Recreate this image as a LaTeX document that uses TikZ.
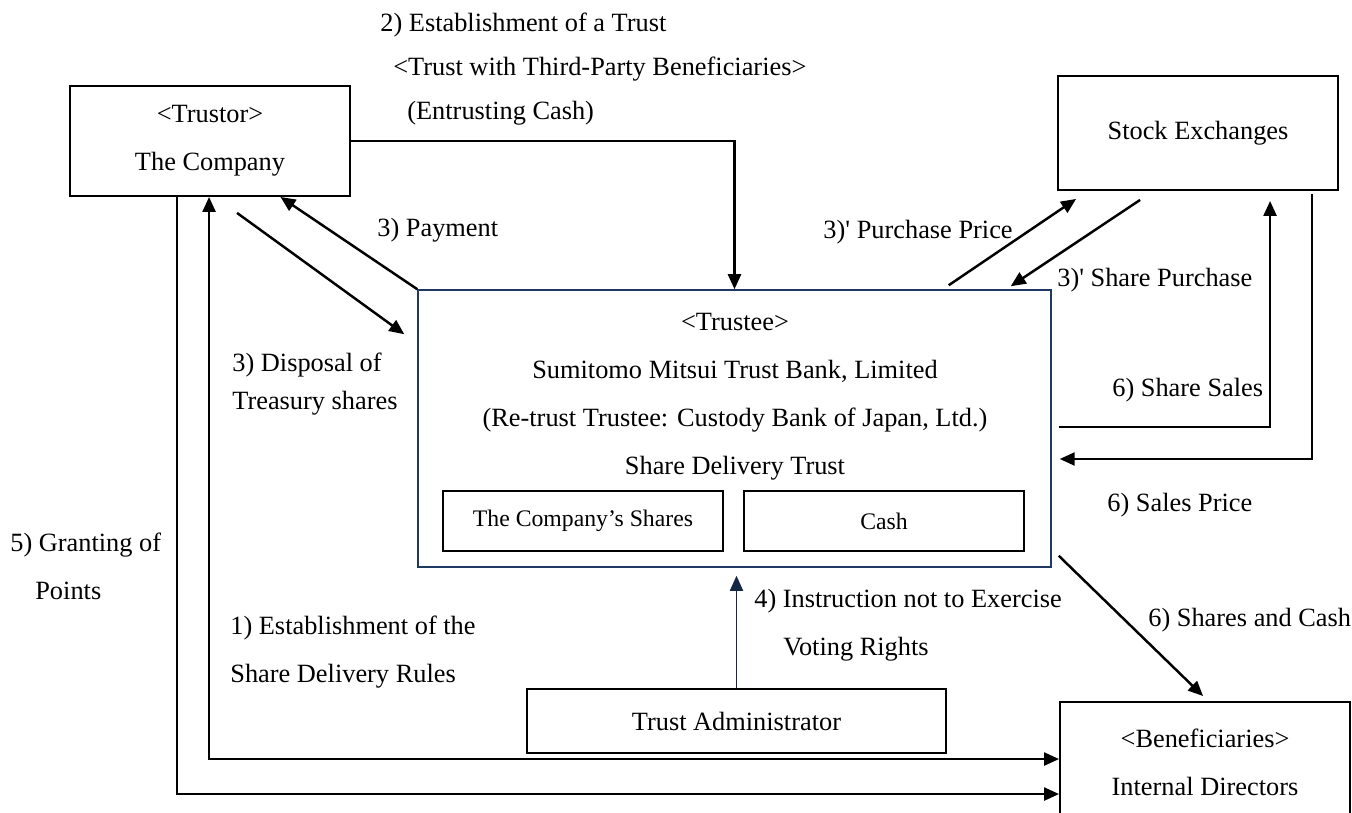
\documentclass[tikz,border=0pt]{standalone}
\usepackage{fontspec}
\setmainfont{Liberation Serif}[Ligatures=TeXOff]
\usetikzlibrary{arrows.meta,calc}
\definecolor{trustblue}{RGB}{31,56,100}
\definecolor{adminblue}{RGB}{20,40,70}
\begin{document}
\begin{tikzpicture}[x=0.02cm, y=-0.02cm, font=\fontsize{15}{27.4}\selectfont,
		>={Triangle[length=0.3cm, width=0.26cm]},
		box/.style={draw, line width=1.1pt, align=center, inner sep=0pt},
		flow/.style={line width=1.4pt, ->},
		lbl/.style={inner sep=0pt, align=left}]
	\useasboundingbox (0,0) rectangle (1352,813);
	\path node[box, minimum width=5.6cm, minimum height=2.2cm] (trustor) at (210,141) {<Trustor>\\The Company};
	\path node[box, minimum width=5.6cm, minimum height=2.28cm] (stock) at (1198,133) {Stock Exchanges};
	\path node[draw=trustblue, line width=0.9pt, minimum width=12.66cm, minimum height=5.54cm] (trustee) at (734.5,428.5) {};
	\path node[align=center] (trusteetxt) at (735,397) {<Trustee>\\Sumitomo Mitsui Trust Bank, Limited\\(Re-trust Trustee: Custody Bank of Japan, Ltd.)\\Share Delivery Trust};
	\path node[box, font=\fontsize{13.5}{16}\selectfont, minimum width=5.6cm, minimum height=1.2cm] (shares) at (583,521) {The Company’s Shares};
	\path node[box, font=\fontsize{13.5}{16}\selectfont, minimum width=5.6cm, minimum height=1.2cm] (cash) at (884,521) {Cash};
	\path node[box, minimum width=8.38cm, minimum height=1.28cm] (admin) at (736.5,721) {Trust Administrator};
	\path node[box, minimum width=5.8cm, minimum height=2.4cm] (benef) at (1205,762) {<Beneficiaries>\\Internal Directors};

	\draw[flow] (trustor.east) -| (trustee.north);
	\draw[flow] (trustee.north west) -- ($(trustor.south west)!0.75!(trustor.south east)$);
	\draw[flow] ($(trustor.south west)+(168,16)$) -- ($(trustee.north west)+(-13,45)$);
	\draw[flow, <->] ($(trustor.south west)+(140,0)$) |- ($(benef.north west)+(0,58)$);
	\draw[flow] ($(trustor.south west)+(108,0)$) |- ($(benef.north west)+(0,93)$);
	\draw[flow] ($(trustee.north east)+(-103,-4)$) -- ($(stock.south west)+(19,8)$);
	\draw[flow] ($(stock.south west)+(83,9)$) -- ($(trustee.north east)+(-41,-3)$);
	\draw[flow] ($(trustee.east)+(7,-1.5)$) -| ($(stock.south west)+(213,10)$);
	\draw[flow] ($(stock.south east)+(-27,3)$) |- ($(trustee.east)+(8,30.5)$);
	\draw[flow] ($(trustee.south east)+(7,-12)$) -- ($(benef.north west)+(144,-5)$);
	\draw[flow, line width=1pt, color=adminblue] (admin.north) -- ($(admin.north |- trustee.south)+(0,8)$);

	\path node[lbl, anchor=west, font=\fontsize{15}{25.2}\selectfont] (lblfund) at (380,69) {2) Establishment of a Trust\\\hspace*{0.26cm}<Trust with Third-Party Beneficiaries>\\\hspace*{0.54cm}(Entrusting Cash)};
	\path node[lbl, anchor=west] (lblpay) at (377,230) {3) Payment};
	\path node[lbl, anchor=west, font=\fontsize{15}{21.5}\selectfont] (lbldisp) at (232,384) {3) Disposal of\\Treasury shares};
	\path node[lbl, anchor=east] (lblprice) at (1013,232) {3)' Purchase Price};
	\path node[lbl, anchor=west] (lblbuy) at (1057,280) {3)' Share Purchase};
	\path node[lbl, anchor=west] (lblsale) at (1112,390) {6) Share Sales};
	\path node[lbl, anchor=west] (lblproceeds) at (1107,505) {6) Sales Price};
	\path node[lbl, anchor=west] (lbldeliver) at (1148,620) {6) Shares and Cash};
	\path node[lbl, anchor=west] (lblvote) at (754,625) {4) Instruction not to Exercise\\\hspace*{0.58cm}Voting Rights};
	\path node[lbl, anchor=west] (lblpoints) at (10,566) {5) Granting of\\\hspace*{0.5cm}Points};
	\path node[lbl, anchor=west] (lblrules) at (230,652) {1) Establishment of the\\Share Delivery Rules};
\end{tikzpicture}
\end{document}
